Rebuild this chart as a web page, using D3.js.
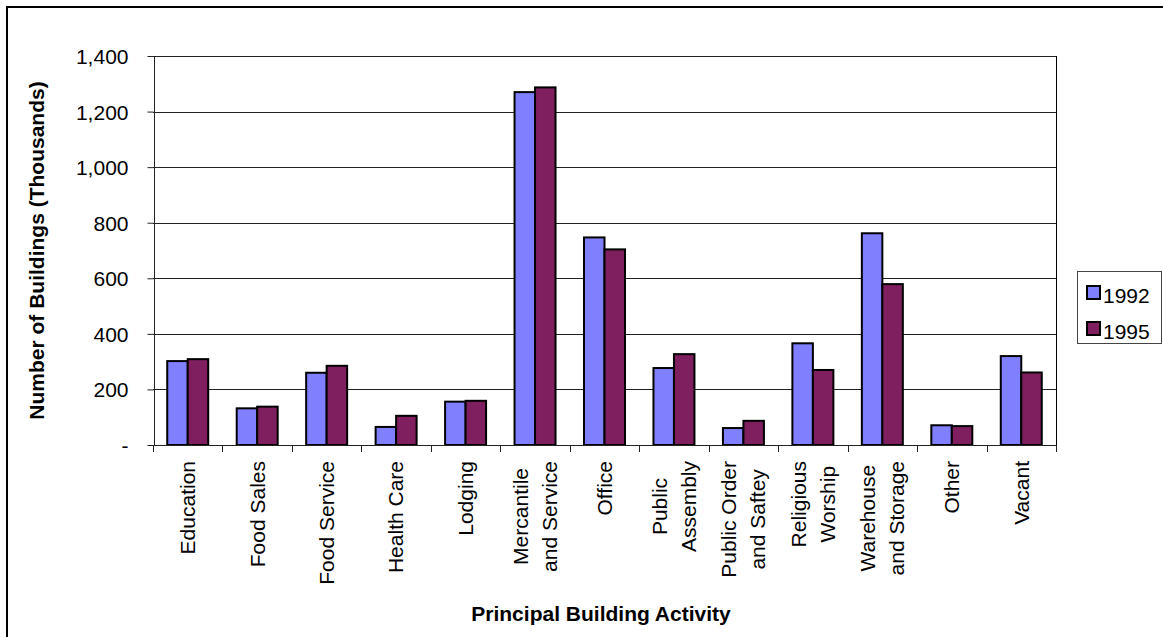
<!DOCTYPE html>
<html lang="en">
<head>
    <meta charset="UTF-8">
    <title>buildings by activity</title>
    <script src="https://cdn.jsdelivr.net/npm/d3@7"></script>
    <style>
        body {
            margin: 0;
            background: #fff;
        }

        svg {
            display: block;
            font-family: "Liberation Sans", Arial, sans-serif;
        }

        .grid line {
            stroke: #222;
            stroke-width: 1px;
            shape-rendering: crispEdges;
        }

        .bar {
            stroke: #000;
            stroke-width: 2px;
        }

        .tick-label {
            font-size: 21px;
            fill: #000;
        }

        .axis-title {
            font-size: 21px;
            font-weight: bold;
            fill: #000;
        }
    </style>
</head>
<body>
<svg width="1163" height="637"></svg>
<script>

    var categories = [
        ['Education'],
        ['Food Sales'],
        ['Food Service'],
        ['Health Care'],
        ['Lodging'],
        ['Mercantile', 'and Service'],
        ['Office'],
        ['Public', 'Assembly'],
        ['Public Order', 'and Saftey'],
        ['Religious', 'Worship'],
        ['Warehouse', 'and Storage'],
        ['Other'],
        ['Vacant']
    ];
    var years = ['1992', '1995'];
    var values1992 = [302, 132, 260, 65, 156, 1270, 747, 277, 61, 366, 762, 71, 320];
    var values1995 = [309, 138, 285, 105, 159, 1287, 704, 327, 87, 270, 579, 68, 261];
    var yTicks = [0, 200, 400, 600, 800, 1000, 1200, 1400];
    var colors = ['#8080ff', '#801f5f'];

    var svg = d3.select('svg');

    var plotLeft = 153, plotRight = 1056, plotTop = 56, plotBottom = 445;

    var catNames = categories.map(function (c) { return c.join(' '); });

    var x0 = d3.scaleBand()
        .domain(catNames)
        .range([plotLeft, plotRight])
        .padding(0);

    var bw = x0.bandwidth();

    var x1 = d3.scaleBand()
        .domain(years)
        .range([bw * 0.205, bw * 0.795]);

    var y = d3.scaleLinear()
        .domain([0, 1400])
        .range([plotBottom, plotTop]);

    // outer frame, runs off the right and bottom edges
    svg.append('rect')
        .attr('x', 7).attr('y', 7)
        .attr('width', 1300).attr('height', 800)
        .attr('fill', 'none')
        .attr('stroke', '#000')
        .attr('stroke-width', 2);

    // gridlines
    var grid = svg.append('g').attr('class', 'grid');
    yTicks.slice(1).forEach(function (t) {
        grid.append('line')
            .attr('x1', plotLeft).attr('x2', plotRight)
            .attr('y1', Math.round(y(t)) + 0.5).attr('y2', Math.round(y(t)) + 0.5);
    });

    // plot border right side
    svg.append('line')
        .attr('x1', plotRight + 0.5).attr('x2', plotRight + 0.5)
        .attr('y1', plotTop).attr('y2', plotBottom)
        .attr('stroke', '#000')
        .attr('shape-rendering', 'crispEdges');

    // bars
    var series = [values1992, values1995];
    var bars = svg.append('g');
    catNames.forEach(function (name, i) {
        years.forEach(function (yr, j) {
            var v = series[j][i];
            bars.append('rect')
                .attr('class', 'bar')
                .attr('x', x0(name) + x1(yr))
                .attr('y', y(v))
                .attr('width', x1.bandwidth())
                .attr('height', y(0) - y(v))
                .attr('fill', colors[j]);
        });
    });

    // y axis
    var yAxis = d3.axisLeft(y)
        .tickValues(yTicks)
        .tickSize(6)
        .tickFormat(function (d) { return d === 0 ? '-' : d3.format(',')(d); });

    var yAxisG = svg.append('g')
        .attr('transform', 'translate(' + (plotLeft + 0.5) + ',0)')
        .call(yAxis)
        .attr('font-family', null)
        .attr('font-size', null);
    yAxisG.select('.domain').attr('stroke', '#222').attr('shape-rendering', 'crispEdges');
    yAxisG.selectAll('.tick line').attr('stroke', '#222');
    yAxisG.selectAll('.tick text')
        .attr('class', 'tick-label')
        .attr('x', -25)
        .attr('dy', '0.36em');

    // x axis line and ticks at category boundaries
    var xAxisG = svg.append('g');
    xAxisG.append('line')
        .attr('x1', plotLeft).attr('x2', plotRight)
        .attr('y1', plotBottom + 0.5).attr('y2', plotBottom + 0.5)
        .attr('stroke', '#222');
    catNames.concat(['end']).forEach(function (name, i) {
        var px = i < catNames.length ? x0(name) : plotRight;
        xAxisG.append('line')
            .attr('x1', Math.round(px) + 0.5).attr('x2', Math.round(px) + 0.5)
            .attr('y1', plotBottom).attr('y2', plotBottom + 7)
            .attr('stroke', '#222');
    });

    // rotated category labels
    categories.forEach(function (lines, i) {
        var cx = x0(catNames[i]) + bw / 2;
        var lg = svg.append('g')
            .attr('transform', 'translate(' + cx + ',461) rotate(-90)');
        var texts = lines.map(function (s, k) {
            return lg.append('text')
                .attr('class', 'tick-label')
                .attr('y', (k - (lines.length - 1) / 2) * 29)
                .attr('dy', '0.35em')
                .text(s);
        });
        if (lines.length === 1) {
            texts[0].attr('text-anchor', 'end').attr('x', 0);
        } else {
            var maxLen = d3.max(texts, function (t) { return t.node().getComputedTextLength(); });
            texts.forEach(function (t) {
                t.attr('text-anchor', 'middle').attr('x', -maxLen / 2);
            });
        }
    });

    // axis titles
    svg.append('text')
        .attr('class', 'axis-title')
        .attr('text-anchor', 'middle')
        .attr('transform', 'translate(44,' + (plotTop + plotBottom) / 2 + ') rotate(-90)')
        .text('Number of Buildings (Thousands)');

    svg.append('text')
        .attr('class', 'axis-title')
        .attr('text-anchor', 'middle')
        .attr('x', 601)
        .attr('y', 621)
        .text('Principal Building Activity');

    // legend
    var legend = svg.append('g');
    legend.append('rect')
        .attr('x', 1077.5).attr('y', 271.5)
        .attr('width', 84).attr('height', 72)
        .attr('fill', '#fff')
        .attr('stroke', '#444');
    years.forEach(function (yr, j) {
        legend.append('rect')
            .attr('x', 1087).attr('y', 286 + j * 36)
            .attr('width', 13).attr('height', 13)
            .attr('fill', colors[j])
            .attr('stroke', '#000')
            .attr('stroke-width', 2);
        legend.append('text')
            .attr('class', 'tick-label')
            .attr('x', 1103)
            .attr('y', 302.5 + j * 36)
            .text(yr);
    });

</script>
</body>
</html>
